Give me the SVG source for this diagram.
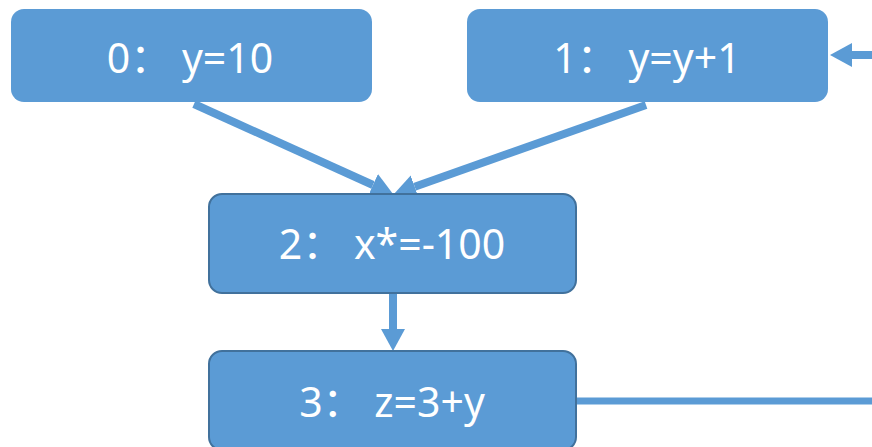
<svg xmlns="http://www.w3.org/2000/svg" width="872" height="447" viewBox="0 0 872 447">
<defs>
<style>
.box{fill:#5B9BD5;}
.box2{fill:#5B9BD5;stroke:#41719C;stroke-width:2;}
.lbl{fill:#FFFFFF;font-family:"Noto Sans","Noto Sans CJK SC",sans-serif;font-size:41px;text-anchor:middle;white-space:pre;}
.edge{stroke:#5B9BD5;stroke-width:8;fill:none;}
</style>
<marker id="ah" markerUnits="userSpaceOnUse" markerWidth="22" markerHeight="24" refX="0" refY="12" orient="auto" viewBox="0 0 22 24">
<path d="M0,0 L22,12 L0,24 z" fill="#5B9BD5"/>
</marker>
</defs>
<rect width="872" height="447" fill="#FFFFFF"/>
<g id="connectors">
<line class="edge" x1="194" y1="104" x2="373" y2="185" marker-end="url(#ah)"/>
<line class="edge" x1="646" y1="105" x2="414.7" y2="186.7" marker-end="url(#ah)"/>
<line class="edge" x1="393" y1="293" x2="393" y2="329" marker-end="url(#ah)"/>
<line class="edge" x1="872" y1="55" x2="852" y2="55" marker-end="url(#ah)"/>
<line class="edge" x1="576" y1="401" x2="872" y2="401" style="stroke-width:7"/>
</g>
<g id="node0">
<rect class="box" x="11" y="9" width="361" height="93" rx="13"/>
<text class="lbl" x="190" y="73" xml:space="preserve">0： y=10</text>
</g>
<g id="node1">
<rect class="box" x="467" y="9" width="361" height="93" rx="13"/>
<text class="lbl" x="647" y="73" xml:space="preserve">1： y=y+1</text>
</g>
<g id="node2">
<rect class="box2" x="209" y="194" width="367" height="99" rx="13"/>
<text class="lbl" x="392" y="259" xml:space="preserve">2： x*=-100</text>
</g>
<g id="node3">
<rect class="box2" x="209" y="351" width="367" height="99" rx="13"/>
<text class="lbl" x="392" y="417" xml:space="preserve">3： z=3+y</text>
</g>
</svg>
